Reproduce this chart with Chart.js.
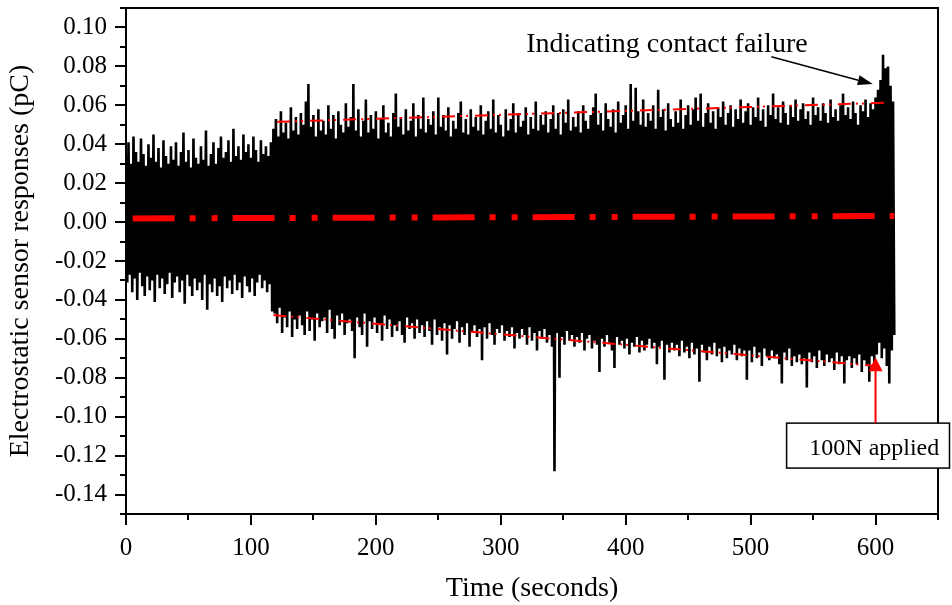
<!DOCTYPE html>
<html><head><meta charset="utf-8">
<script src="https://cdn.jsdelivr.net/npm/chart.js@4.4.1/dist/chart.umd.min.js"></script>
<style>html,body{margin:0;padding:0;background:#fff}#wrap{width:952px;height:605px}</style>
</head><body><div id="wrap"><canvas id="c" width="952" height="605"></canvas></div>
<script>
// ---- data ----
const sampleStep = 2; // seconds between envelope samples (upper at t, lower at t+1)
const upperPeaks = [
0.034,0.041,0.030,0.044,0.036,0.031,0.043,0.035,0.029,0.040,
0.033,0.045,0.031,0.038,0.028,0.042,0.034,0.030,0.039,0.032,
0.041,0.029,0.036,0.046,0.031,0.037,0.028,0.043,0.033,0.030,
0.039,0.032,0.047,0.029,0.035,0.041,0.030,0.038,0.044,0.033,
0.036,0.042,0.031,0.048,0.034,0.039,0.032,0.045,0.036,0.040,
0.033,0.044,0.037,0.031,0.042,0.035,0.039,0.034,0.041,
0.048,0.053,0.044,0.057,0.046,0.051,0.043,0.059,0.047,0.054,
0.045,0.056,0.050,0.062,0.071,0.049,0.055,0.044,0.058,0.047,
0.052,0.045,0.060,0.048,0.055,0.043,0.057,0.050,0.046,0.061,
0.049,0.054,0.071,0.047,0.058,0.044,0.052,0.063,0.046,0.055,
0.048,0.057,0.043,0.053,0.060,0.046,0.051,0.044,0.056,0.066,
0.049,0.054,0.045,0.058,0.047,0.052,0.061,0.044,0.055,0.048,
0.064,0.046,0.053,0.050,0.057,0.045,0.064,0.049,0.055,0.047,
0.059,0.044,0.052,0.048,0.056,0.062,0.046,0.053,0.045,0.058,
0.049,0.054,0.047,0.060,0.045,0.052,0.057,0.048,0.063,0.046,
0.055,0.050,0.044,0.058,0.047,0.053,0.061,0.046,0.056,0.049,
0.052,0.059,0.045,0.054,0.048,0.062,0.047,0.055,0.050,0.057,
0.046,0.053,0.060,0.048,0.056,0.045,0.058,0.051,0.063,0.047,
0.054,0.049,0.057,0.046,0.060,0.052,0.048,0.055,0.059,0.066,
0.050,0.056,0.047,0.061,0.053,0.049,0.058,0.046,0.062,0.051,
0.055,0.060,0.048,0.071,0.052,0.069,0.057,0.050,0.063,0.049,
0.056,0.052,0.060,0.048,0.068,0.054,0.058,0.047,0.061,0.053,
0.049,0.057,0.051,0.063,0.048,0.055,0.060,0.050,0.058,0.064,
0.052,0.066,0.049,0.056,0.061,0.051,0.057,0.048,0.059,0.054,
0.062,0.050,0.056,0.060,0.049,0.058,0.053,0.063,0.051,0.057,
0.061,0.050,0.059,0.054,0.064,0.052,0.058,0.049,0.060,0.055,
0.066,0.053,0.059,0.051,0.062,0.056,0.050,0.060,0.054,0.063,
0.052,0.058,0.061,0.053,0.057,0.050,0.064,0.055,0.059,0.052,
0.061,0.056,0.051,0.063,0.054,0.058,0.052,0.060,0.066,0.055,
0.059,0.053,0.062,0.056,0.050,0.060,0.057,0.063,0.054,0.061,
0.058,0.064,0.068,0.073,0.086,0.079,0.080,0.070,0.062
];
const lowerPeaks = [
-0.031,-0.027,-0.036,-0.029,-0.040,-0.026,-0.033,-0.038,-0.028,-0.035,
-0.030,-0.041,-0.027,-0.034,-0.029,-0.037,-0.032,-0.026,-0.039,-0.031,
-0.028,-0.036,-0.030,-0.042,-0.027,-0.033,-0.038,-0.029,-0.035,-0.031,
-0.040,-0.027,-0.045,-0.032,-0.036,-0.029,-0.038,-0.033,-0.041,-0.028,
-0.034,-0.030,-0.037,-0.027,-0.035,-0.031,-0.039,-0.028,-0.033,-0.036,
-0.029,-0.038,-0.031,-0.027,-0.034,-0.030,-0.036,-0.032,-0.046,
-0.047,-0.052,-0.044,-0.057,-0.049,-0.054,-0.046,-0.059,-0.050,-0.055,
-0.048,-0.053,-0.058,-0.046,-0.056,-0.050,-0.061,-0.047,-0.054,-0.051,
-0.049,-0.057,-0.045,-0.055,-0.060,-0.048,-0.053,-0.047,-0.058,-0.052,
-0.050,-0.056,-0.070,-0.049,-0.054,-0.058,-0.047,-0.064,-0.051,-0.055,
-0.049,-0.057,-0.052,-0.061,-0.048,-0.055,-0.050,-0.059,-0.053,-0.056,
-0.051,-0.058,-0.062,-0.049,-0.055,-0.052,-0.060,-0.050,-0.057,-0.053,
-0.059,-0.051,-0.056,-0.063,-0.050,-0.058,-0.054,-0.061,-0.052,-0.068,
-0.053,-0.060,-0.055,-0.051,-0.062,-0.054,-0.058,-0.052,-0.064,-0.056,
-0.053,-0.059,-0.055,-0.071,-0.054,-0.060,-0.052,-0.058,-0.063,-0.055,
-0.057,-0.053,-0.061,-0.056,-0.059,-0.054,-0.065,-0.057,-0.060,-0.055,
-0.058,-0.063,-0.054,-0.061,-0.057,-0.066,-0.056,-0.060,-0.055,-0.062,
-0.058,-0.064,-0.128,-0.057,-0.080,-0.059,-0.063,-0.056,-0.061,-0.058,
-0.064,-0.059,-0.062,-0.057,-0.066,-0.060,-0.058,-0.065,-0.061,-0.063,
-0.077,-0.060,-0.064,-0.058,-0.062,-0.066,-0.075,-0.059,-0.063,-0.061,
-0.065,-0.060,-0.068,-0.062,-0.064,-0.059,-0.067,-0.061,-0.066,-0.063,
-0.060,-0.065,-0.062,-0.073,-0.064,-0.061,-0.081,-0.063,-0.067,-0.062,
-0.066,-0.063,-0.069,-0.061,-0.067,-0.064,-0.070,-0.062,-0.068,-0.065,
-0.082,-0.063,-0.067,-0.071,-0.064,-0.068,-0.062,-0.069,-0.065,-0.072,
-0.064,-0.070,-0.066,-0.068,-0.063,-0.071,-0.065,-0.069,-0.066,-0.081,
-0.066,-0.072,-0.064,-0.070,-0.067,-0.074,-0.065,-0.069,-0.071,-0.066,
-0.070,-0.068,-0.073,-0.083,-0.067,-0.071,-0.065,-0.074,-0.069,-0.072,
-0.068,-0.073,-0.070,-0.085,-0.067,-0.072,-0.069,-0.075,-0.066,-0.071,
-0.074,-0.068,-0.072,-0.070,-0.076,-0.067,-0.073,-0.069,-0.083,-0.071,
-0.069,-0.075,-0.070,-0.073,-0.068,-0.077,-0.071,-0.074,-0.082,-0.069,
-0.072,-0.068,-0.062,-0.070,-0.065,-0.074,-0.083,-0.066,-0.058
];
const meanTimes = [5.3, 615];
const meanValues = [0.0019, 0.0031];
const upperTrendTimes = [121, 607];
const upperTrendValues = [0.0515, 0.0613];
const lowerTrendTimes = [118, 598];
const lowerTrendValues = [-0.0478, -0.0738];
const xTickLabels = [0, 100, 200, 300, 400, 500, 600];
const yTickLabels = [-0.14, -0.12, -0.10, -0.08, -0.06, -0.04, -0.02, 0.00, 0.02, 0.04, 0.06, 0.08, 0.10];
const xTitle = 'Time (seconds)';
const yTitle = 'Electrostatic sensor responses (pC)';
const failureNote = {text: 'Indicating contact failure', t: 433, v: 0.0875, fromT: 516.6, fromV: 0.0849, toT: 597.8, toV: 0.0709};
const loadNote = {text: '100N applied', left: 528.8, right: 659.2, top: -0.1033, bottom: -0.1264, textT: 599, textV: -0.1197, arrowT: 600, tipV: -0.0694};

// ---- build series ----
const signal = [];
upperPeaks.forEach((v, i) => {
  signal.push({x: i * sampleStep, y: v});
  signal.push({x: i * sampleStep + 1, y: lowerPeaks[i]});
});
const toPts = (ts, vs) => ts.map((t, i) => ({x: t, y: vs[i]}));

const SERIF = "'Liberation Serif', 'Times New Roman', serif";

const decor = {
  id: 'decor',
  afterDraw(chart) {
    const {ctx, chartArea: a, scales: {x, y}} = chart;
    ctx.save();
    ctx.strokeStyle = '#000';
    ctx.lineWidth = 2;
    ctx.strokeRect(a.left, a.top, a.right - a.left, a.bottom - a.top);
    // tick marks
    ctx.beginPath();
    y.ticks.forEach(t => {
      const py = Math.round(y.getPixelForValue(t.value));
      const len = t.label !== '' ? 11 : 6;
      ctx.moveTo(a.left - len, py); ctx.lineTo(a.left, py);
    });
    x.ticks.forEach(t => {
      const px = Math.round(x.getPixelForValue(t.value));
      const len = t.label !== '' ? 11 : 6;
      ctx.moveTo(px, a.bottom); ctx.lineTo(px, a.bottom + len);
    });
    ctx.stroke();

    // failure annotation
    ctx.fillStyle = '#000';
    ctx.font = '28px ' + SERIF;
    ctx.textAlign = 'center';
    ctx.textBaseline = 'alphabetic';
    ctx.fillText(failureNote.text, x.getPixelForValue(failureNote.t), y.getPixelForValue(failureNote.v));
    const fx = x.getPixelForValue(failureNote.fromT), fy = y.getPixelForValue(failureNote.fromV);
    const tx = x.getPixelForValue(failureNote.toT), ty = y.getPixelForValue(failureNote.toV);
    const ang = Math.atan2(ty - fy, tx - fx);
    const hl = 15, hw = 5;
    ctx.lineWidth = 1.5;
    ctx.beginPath();
    ctx.moveTo(fx, fy);
    ctx.lineTo(tx - hl * Math.cos(ang), ty - hl * Math.sin(ang));
    ctx.stroke();
    ctx.beginPath();
    ctx.moveTo(tx, ty);
    ctx.lineTo(tx - hl * Math.cos(ang) + hw * Math.sin(ang), ty - hl * Math.sin(ang) - hw * Math.cos(ang));
    ctx.lineTo(tx - hl * Math.cos(ang) - hw * Math.sin(ang), ty - hl * Math.sin(ang) + hw * Math.cos(ang));
    ctx.closePath();
    ctx.fill();

    // load annotation box
    const bl = x.getPixelForValue(loadNote.left), br = x.getPixelForValue(loadNote.right);
    const bt = y.getPixelForValue(loadNote.top), bb = y.getPixelForValue(loadNote.bottom);
    ctx.fillStyle = '#fff';
    ctx.fillRect(bl, bt, br - bl, bb - bt);
    ctx.lineWidth = 1.5;
    ctx.strokeStyle = '#000';
    ctx.strokeRect(bl, bt, br - bl, bb - bt);
    ctx.fillStyle = '#000';
    ctx.font = '24px ' + SERIF;
    ctx.fillText(loadNote.text, x.getPixelForValue(loadNote.textT), y.getPixelForValue(loadNote.textV));
    const ax = x.getPixelForValue(loadNote.arrowT);
    const tip = y.getPixelForValue(loadNote.tipV);
    ctx.strokeStyle = '#f00';
    ctx.fillStyle = '#f00';
    ctx.lineWidth = 2;
    ctx.beginPath();
    ctx.moveTo(ax, bt); ctx.lineTo(ax, tip + 12);
    ctx.stroke();
    ctx.beginPath();
    ctx.moveTo(ax, tip); ctx.lineTo(ax - 7, tip + 14); ctx.lineTo(ax + 7, tip + 14);
    ctx.closePath();
    ctx.fill();
    ctx.restore();
  }
};

new Chart(document.getElementById('c'), {
  type: 'line',
  data: {
    datasets: [
      {label: 'mean', data: toPts(meanTimes, meanValues), borderColor: '#f00', borderWidth: 6,
       borderDash: [42, 15, 6, 16, 6, 15], pointRadius: 0, order: 0, borderCapStyle: 'butt'},
      {label: 'upper', data: toPts(upperTrendTimes, upperTrendValues), borderColor: '#f00', borderWidth: 2,
       borderDash: [13, 5, 2, 4, 2, 7], pointRadius: 0, order: 1},
      {label: 'lower', data: toPts(lowerTrendTimes, lowerTrendValues), borderColor: '#f00', borderWidth: 2,
       borderDash: [13, 5, 2, 4, 2, 7], pointRadius: 0, order: 1},
      {label: 'signal', data: signal, borderColor: '#000', borderWidth: 2.6, pointRadius: 0,
       borderJoinStyle: 'bevel', tension: 0, order: 10}
    ]
  },
  options: {
    responsive: false,
    animation: false,
    devicePixelRatio: 1,
    layout: {padding: {left: 0, right: 14, top: 8, bottom: 0}},
    plugins: {legend: {display: false}, tooltip: {enabled: false}},
    scales: {
      x: {
        type: 'linear', min: 0, max: 650,
        grid: {display: false, drawTicks: false},
        border: {display: false},
        ticks: {stepSize: 50, autoSkip: false, maxRotation: 0, padding: 19, color: '#000',
                font: {family: SERIF, size: 25, lineHeight: 1.2},
                callback: v => xTickLabels.includes(Math.round(v)) ? String(Math.round(v)) : ''},
        title: {display: true, text: xTitle, color: '#000', font: {family: SERIF, size: 28, lineHeight: 1.2},
                padding: {top: 0, bottom: 0}},
        afterFit(s) { s.height = 91; s.paddingLeft = 0; s.paddingRight = 0; }
      },
      y: {
        type: 'linear', min: -0.15, max: 0.11,
        grid: {display: false, drawTicks: false},
        border: {display: false},
        ticks: {stepSize: 0.01, autoSkip: false, padding: 19, color: '#000',
                font: {family: SERIF, size: 25, lineHeight: 1.2},
                callback: v => {
                  const n = Math.round(v * 100);
                  return yTickLabels.some(l => Math.round(l * 100) === n) ? (n / 100).toFixed(2) : '';
                }},
        title: {display: true, text: yTitle, color: '#000', font: {family: SERIF, size: 28, lineHeight: 1.2},
                padding: {top: 4, bottom: 0}},
        afterFit(s) { s.width = 126; s.paddingTop = 0; s.paddingBottom = 0; }
      }
    }
  },
  plugins: [decor]
});
</script></body></html>
